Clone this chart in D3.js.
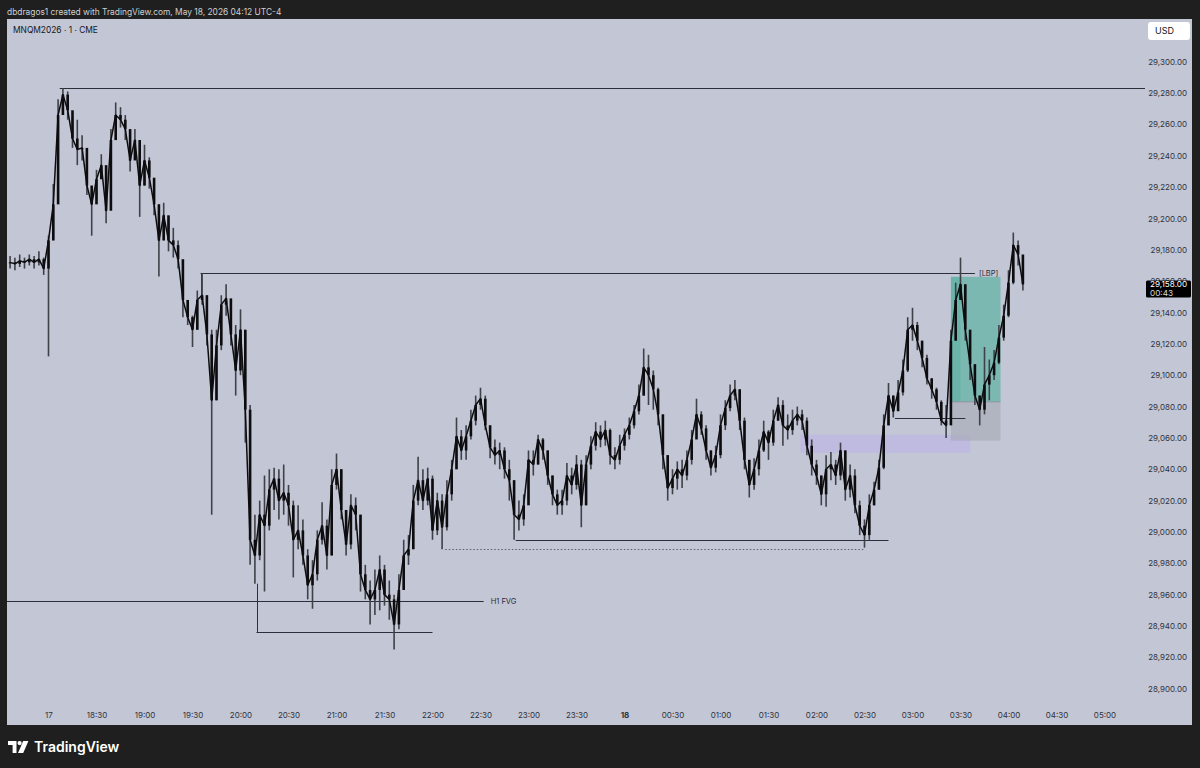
<!DOCTYPE html>
<html><head><meta charset="utf-8">
<script src="https://cdn.jsdelivr.net/npm/d3@7"></script>
<style>body{margin:0;background:#1f1f1f;overflow:hidden}svg{display:block}</style>
</head><body><svg id="c" width="1200" height="768"></svg>
<script>
// ---- DATA (3-minute bars, MNQM2026) ----
const barStart = "2026-05-17T17:36";
const barMinutes = 3;
const closes = [29172,29171,29173,29172,29174,29172,29174,29168,29186,29209,
29266,29279,29269,29251,29244,29245,29221,29209,29225,29234,
29205,29250,29266,29263,29257,29237,29250,29221,29237,29226,
29209,29186,29202,29186,29183,29174,29148,29137,29129,29148,
29151,29126,29084,29119,29145,29149,29126,29103,29129,29078,
28995,28985,29011,29004,29027,29034,29020,29025,29017,28995,
29001,28985,28966,28973,28995,29004,28985,29030,29040,29014,
28992,29017,29011,28973,28963,28957,28963,28976,28960,28957,
28941,28963,28985,28989,29020,29033,29020,29034,29001,29020,
29003,29024,29040,29061,29052,29061,29071,29081,29085,29068,
29054,29049,29052,29040,29033,29011,29008,29017,29046,29043,
29059,29052,29036,29024,29017,29020,29036,29030,29043,29017,
29043,29055,29064,29059,29065,29049,29046,29055,29062,29068,
29077,29087,29105,29100,29091,29075,29049,29028,29034,29040,
29036,29046,29059,29075,29066,29052,29041,29049,29068,29079,
29087,29091,29071,29046,29030,29040,29052,29064,29057,29071,
29081,29068,29065,29071,29075,29071,29055,29043,29036,29024,
29040,29043,29036,29052,29027,29036,29017,29004,28998,29017,
29027,29041,29068,29087,29077,29089,29103,29129,29132,29122,
29111,29098,29091,29083,29071,29068,29122,29148,29158,29129,
29107,29087,29078,29094,29100,29108,29124,29138,29159,29183,
29177,29158];
const highs = [29176,29175,29177,29175,29177,29176,29179,29175,29189,29222,
29276,29283,29281,29264,29263,29253,29244,29218,29231,29241,
29230,29257,29274,29271,29266,29250,29257,29250,29247,29239,
29221,29209,29210,29199,29194,29186,29167,29148,29138,29154,
29165,29151,29129,29129,29151,29158,29148,29132,29142,29129,
29081,29011,29020,29036,29040,29041,29040,29043,29030,29020,
29017,29008,28989,28982,29001,29019,29008,29040,29050,29040,
29014,29024,29022,29011,28979,28969,28976,28985,28979,28969,
28960,28973,28995,28998,29030,29048,29040,29041,29036,29025,
29024,29033,29046,29073,29065,29068,29078,29087,29092,29087,
29068,29059,29057,29054,29046,29033,29020,29024,29052,29052,
29062,29060,29052,29036,29027,29027,29044,29041,29049,29046,
29049,29061,29070,29068,29071,29066,29054,29062,29066,29073,
29081,29094,29117,29113,29103,29092,29075,29049,29040,29045,
29046,29052,29065,29085,29077,29068,29052,29055,29075,29084,
29094,29097,29091,29073,29046,29047,29059,29071,29065,29078,
29086,29084,29075,29078,29080,29078,29073,29059,29046,29036,
29049,29051,29046,29057,29052,29043,29040,29020,29008,29024,
29032,29046,29075,29095,29087,29097,29110,29137,29143,29134,
29122,29113,29098,29092,29084,29081,29129,29159,29175,29158,
29129,29107,29087,29118,29110,29116,29132,29145,29167,29191,
29186,29172];
const lows = [29168,29167,29169,29168,29170,29168,29170,29164,29112,29186,
29228,29268,29263,29245,29234,29237,29215,29189,29212,29226,
29197,29205,29260,29258,29250,29230,29239,29201,29221,29219,
29202,29163,29186,29179,29175,29168,29137,29132,29118,29129,
29145,29119,29011,29084,29116,29138,29119,29087,29100,29057,
28979,28967,28982,28962,29001,29014,29008,29011,29004,28971,
28989,28979,28957,28951,28969,28992,28976,28985,29027,29008,
28985,28989,29001,28962,28957,28941,28947,28950,28953,28944,
28925,28938,28963,28979,28989,29017,29014,29017,28995,28998,
28989,29001,29020,29040,29046,29046,29059,29068,29078,29065,
29047,29043,29040,29034,29020,28995,29001,29004,29020,29036,
29043,29046,29030,29017,29011,29011,29017,29024,29027,29003,
29017,29040,29052,29054,29055,29043,29040,29043,29052,29059,
29066,29075,29087,29081,29078,29068,29040,29020,29024,29027,
29028,29033,29043,29065,29062,29046,29036,29038,29047,29065,
29077,29084,29065,29040,29022,29027,29036,29051,29046,29055,
29071,29055,29059,29062,29068,29065,29049,29036,29030,29017,
29016,29033,29030,29033,29020,29022,29012,28998,28990,28995,
29017,29027,29040,29068,29073,29078,29087,29102,29122,29116,
29105,29094,29085,29078,29068,29060,29071,29122,29148,29122,
29097,29081,29068,29075,29084,29097,29107,29122,29137,29158,
29170,29154];

const priceTicks = d3.range(28900, 29300.1, 20);
const timeTicks = ["2026-05-17T18:00","2026-05-17T18:30","2026-05-17T19:00","2026-05-17T19:30","2026-05-17T20:00","2026-05-17T20:30","2026-05-17T21:00","2026-05-17T21:30","2026-05-17T22:00","2026-05-17T22:30","2026-05-17T23:00","2026-05-17T23:30","2026-05-18T00:00","2026-05-18T00:30","2026-05-18T01:00","2026-05-18T01:30","2026-05-18T02:00","2026-05-18T02:30","2026-05-18T03:00","2026-05-18T03:30","2026-05-18T04:00","2026-05-18T04:30","2026-05-18T05:00"];
const timeLabels = ["17","18:30","19:00","19:30","20:00","20:30","21:00","21:30","22:00","22:30","23:00","23:30","18","00:30","01:00","01:30","02:00","02:30","03:00","03:30","04:00","04:30","05:00"];

// drawings (time / price)
const topLevel = {price:29283.25, start:"2026-05-17T18:07"};
const lbpLevel = {price:29165.25, anchor:29151, start:"2026-05-17T19:35", end:"2026-05-18T03:39", label:"[LBP]"};
const fvgLevel = {price:28956, end:"2026-05-17T22:32", label:"H1 FVG"};
const lowLevel = {price:28936.25, anchor:28967, start:"2026-05-17T20:10", end:"2026-05-17T22:00"};
const dottedLevel = {price:28989.25, start:"2026-05-17T22:08", end:"2026-05-18T02:30"};
const solidLevel = {price:28995, start:"2026-05-17T22:52", end:"2026-05-18T02:45"};
const shortLevel = {price:29072.75, start:"2026-05-18T02:49", end:"2026-05-18T03:33"};
const fvgZone = {top:29062, bottom:29050.5, start:"2026-05-18T01:50", end:"2026-05-18T03:36"};
const position = {entry:29083, target:29162.75, stop:29058.25, start:"2026-05-18T03:24", fillEnd:"2026-05-18T03:30", end:"2026-05-18T03:55"};
const lastPrice = 29158, countdown = "00:43";

const headerText = "dbdragos1 created with TradingView.com, May 18, 2026 04:12 UTC-4";
const symbolText = "MNQM2026 · 1 · CME";

// ---- DRAW ----
const parse = d3.timeParse("%Y-%m-%dT%H:%M");
const svg = d3.select("#c");
const FONT = "Inter, 'Noto Sans', sans-serif";
const panel = {x0:7, x1:1192, y0:19, y1:725};
const plotRight = 1145;

const x = d3.scaleTime().domain([parse("2026-05-17T18:00"), parse("2026-05-18T05:00")]).range([48.5, 1104.5]);
const y = d3.scaleLinear().domain([28900, 29300]).range([688.7, 61.7]);

svg.append("rect").attr("width",1200).attr("height",768).attr("fill","#1f1f1f");
svg.append("text").attr("x",7).attr("y",14.8).attr("fill","#cfcfcf").attr("font-family",FONT).attr("font-size",8.4).text(headerText);
svg.append("rect").attr("x",panel.x0).attr("y",panel.y0).attr("width",panel.x1-panel.x0).attr("height",panel.y1-panel.y0).attr("fill","#c3c6d4");

svg.append("defs").append("clipPath").attr("id","plot").append("rect")
  .attr("x",panel.x0).attr("y",panel.y0).attr("width",plotRight-panel.x0).attr("height",panel.y1-panel.y0);
const g = svg.append("g").attr("clip-path","url(#plot)");

// zones
g.append("rect").attr("x",x(parse(fvgZone.start))).attr("y",y(fvgZone.top))
  .attr("width",x(parse(fvgZone.end))-x(parse(fvgZone.start))).attr("height",y(fvgZone.bottom)-y(fvgZone.top))
  .attr("fill","#b49cff").attr("opacity",0.28);
const px0 = x(parse(position.start)), px1 = x(parse(position.end)), pxf = x(parse(position.fillEnd));
g.append("rect").attr("x",px0).attr("y",y(position.target)).attr("width",px1-px0).attr("height",y(position.entry)-y(position.target)).attr("fill","#5fb3a3").attr("opacity",0.72);
g.append("rect").attr("x",px0).attr("y",y(position.target)).attr("width",pxf-px0).attr("height",y(position.entry)-y(position.target)).attr("fill","#3aa894").attr("opacity",0.25);
g.append("rect").attr("x",px0).attr("y",y(position.entry)).attr("width",px1-px0).attr("height",y(position.stop)-y(position.entry)).attr("fill","#a3a5b0").attr("opacity",0.55);
g.append("line").attr("x1",px0).attr("x2",px1).attr("y1",y(position.entry)).attr("y2",y(position.entry)).attr("stroke","#8a8f99").attr("stroke-width",0.8);

// level lines
const lineCol = "#2b2f3a";
function hline(p, t0, t1, dash){
  const xa = t0 ? x(parse(t0)) : panel.x0;
  const xb = t1 ? x(parse(t1)) : plotRight;
  const l = g.append("line").attr("x1",xa).attr("x2",xb).attr("y1",Math.round(y(p))+0.5).attr("y2",Math.round(y(p))+0.5)
    .attr("stroke", dash ? "#5a5f6b" : lineCol).attr("stroke-width",1);
  if (dash) l.attr("stroke-dasharray","1.5,2");
}
hline(topLevel.price, topLevel.start, null);
hline(lbpLevel.price, lbpLevel.start, lbpLevel.end);
hline(fvgLevel.price, null, fvgLevel.end);
hline(lowLevel.price, lowLevel.start, lowLevel.end);
hline(dottedLevel.price, dottedLevel.start, dottedLevel.end, true);
hline(solidLevel.price, solidLevel.start, solidLevel.end);
hline(shortLevel.price, shortLevel.start, shortLevel.end);
[lbpLevel, lowLevel].forEach(lv=>{
  const xx = Math.round(x(parse(lv.start)))+0.5;
  g.append("line").attr("x1",xx).attr("x2",xx).attr("y1",y(lv.price)).attr("y2",y(lv.anchor)).attr("stroke",lineCol).attr("stroke-width",1);
});
g.append("text").attr("x",x(parse(lbpLevel.end))+4).attr("y",y(lbpLevel.price)+2.6).attr("font-family",FONT).attr("font-size",7.5).attr("fill","#2b2f3a").text(lbpLevel.label);
g.append("text").attr("x",x(parse(fvgLevel.end))+7).attr("y",y(fvgLevel.price)+2.6).attr("font-family",FONT).attr("font-size",7.5).attr("fill","#2b2f3a").text(fvgLevel.label);

// bars
const t0 = parse(barStart);
const bars = closes.map((c,i)=>({t:d3.timeMinute.offset(t0, i*barMinutes), o: i? closes[i-1]:c, c, h:highs[i], l:lows[i]}));
g.append("g").selectAll("line").data(bars).join("line")
  .attr("x1",d=>x(d.t)).attr("x2",d=>x(d.t)).attr("y1",d=>y(d.h)).attr("y2",d=>y(d.l))
  .attr("stroke","#3f4148").attr("stroke-width",1.6);
g.append("g").selectAll("rect").data(bars).join("rect")
  .attr("x",d=>x(d.t)-1.3).attr("width",2.6)
  .attr("y",d=>y(Math.max(d.o,d.c))).attr("height",d=>Math.max(1,Math.abs(y(d.o)-y(d.c))))
  .attr("fill","#0d0d0f");
g.append("path").datum(bars).attr("fill","none").attr("stroke","#0d0d0f").attr("stroke-width",1.5)
  .attr("stroke-linejoin","round").attr("d", d3.line().x(d=>x(d.t)).y(d=>y(d.c)));

// symbol label
svg.append("text").attr("x",13).attr("y",32.5).attr("font-family",FONT).attr("font-size",8.4).attr("fill","#131722").text(symbolText);

// price axis
const ya = svg.append("g").attr("transform","translate(1187,0)")
  .call(d3.axisLeft(y).tickValues(priceTicks).tickFormat(d3.format(",.2f")).tickSize(0).tickPadding(0));
ya.select(".domain").remove();
ya.selectAll("text").attr("font-family",FONT).attr("font-size",8).attr("fill","#2f3340");

// time axis
const xa = svg.append("g").attr("transform","translate(0,712)")
  .call(d3.axisBottom(x).tickValues(timeTicks.map(parse)).tickFormat((d,i)=>timeLabels[i]).tickSize(0).tickPadding(0));
xa.select(".domain").remove();
xa.selectAll("text").attr("font-family",FONT).attr("font-size",8).attr("fill","#2f3340")
  .attr("font-weight",(d,i)=> timeLabels[i]==="18" ? 700 : 400);

// USD badge
svg.append("rect").attr("x",1148).attr("y",22).attr("width",42).attr("height",18).attr("rx",3).attr("fill","#ffffff");
svg.append("text").attr("x",1155).attr("y",34).attr("font-family",FONT).attr("font-size",9).attr("fill","#131722").text("USD");

// last price label
const ly = y(lastPrice);
svg.append("rect").attr("x",1146).attr("y",ly-3.8).attr("width",45).attr("height",17).attr("rx",1.5).attr("fill","#000");
svg.append("text").attr("x",1150).attr("y",ly+3).attr("font-family",FONT).attr("font-size",8.2).attr("fill","#ffffff").text(d3.format(",.2f")(lastPrice));
svg.append("text").attr("x",1150).attr("y",ly+11.4).attr("font-family",FONT).attr("font-size",8.2).attr("fill","#d8d8d8").text(countdown);

// TradingView logo
const lg = svg.append("g").attr("transform","translate(8,741)").attr("fill","#ffffff");
lg.append("path").attr("d","M0 0 H8.5 V12 H4.6 V4 H0 Z");
lg.append("circle").attr("cx",11.6).attr("cy",2.1).attr("r",2.1);
lg.append("path").attr("d","M15.2 0 H20.4 L15.2 12 H10 Z");
svg.append("text").attr("x",34).attr("y",752).attr("font-family",FONT).attr("font-size",14).attr("font-weight",600).attr("fill","#ffffff").text("TradingView");
</script></body></html>
